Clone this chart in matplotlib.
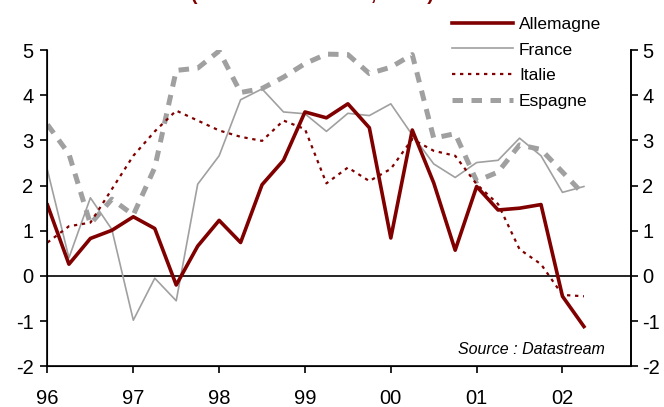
import numpy as np
import matplotlib
matplotlib.use('Agg')
import matplotlib.pyplot as plt

plt.rcParams['font.family'] = ['Liberation Sans', 'DejaVu Sans']
plt.rcParams['axes.unicode_minus'] = False

# quarterly, 1996Q1 .. 2002Q2
quarters = 1996 + 0.25 * np.arange(26)

allemagne = [1.57, 0.26, 0.83, 1.01, 1.31, 1.05, -0.2, 0.66, 1.23, 0.74,
             2.02, 2.56, 3.63, 3.5, 3.81, 3.28, 0.84, 3.23, 2.06, 0.57,
             1.98, 1.46, 1.5, 1.58, -0.45, -1.12]
france = [2.34, 0.4, 1.73, 1.03, -0.98, -0.05, -0.55, 2.03, 2.66, 3.9,
          4.14, 3.63, 3.59, 3.2, 3.6, 3.55, 3.81, 3.12, 2.48, 2.18,
          2.51, 2.56, 3.05, 2.66, 1.85, 1.98]
italie = [0.74, 1.1, 1.18, 1.92, 2.66, 3.2, 3.66, 3.44, 3.22, 3.08,
          2.99, 3.44, 3.25, 2.05, 2.4, 2.1, 2.37, 3.03, 2.77, 2.66,
          2.03, 1.59, 0.59, 0.26, -0.42, -0.45]
espagne = [3.35, 2.7, 1.15, 1.7, 1.35, 2.4, 4.55, 4.6, 4.98, 4.06,
           4.15, 4.4, 4.7, 4.91, 4.9, 4.48, 4.62, 4.9, 3.05, 3.15,
           2.1, 2.3, 2.9, 2.8, 2.3, 1.8]

years = [1996, 1997, 1998, 1999, 2000, 2001, 2002]
year_labels = ['96', '97', '98', '99', '00', '01', '02']
yticks = [-2, -1, 0, 1, 2, 3, 4, 5]

red = '#800000'
grey = '#a0a0a0'

fig = plt.figure(figsize=(6.64, 4.07), dpi=100)
ax = fig.add_axes([0.0715, 0.1, 0.879, 0.777])

ax.axhline(0, color='black', lw=1.2, zorder=1)
ax.plot(quarters, allemagne, color=red, lw=2.6, label='Allemagne', zorder=5)
ax.plot(quarters, france, color=grey, lw=1.2, label='France', zorder=3)
ax.plot(quarters, italie, color=red, lw=1.6, linestyle=(0, (1.5, 2.1)),
        label='Italie', zorder=4)
ax.plot(quarters, espagne, color=grey, lw=3.6, linestyle=(0, (2.1, 1.7)),
        label='Espagne', zorder=2)

ax.set_xlim(1996, 2002.8)
ax.set_ylim(-2, 5)
ax.set_xticks(years)
ax.set_xticklabels(year_labels)
ax.set_yticks(yticks)
ax.spines['top'].set_visible(False)
for s in ['left', 'bottom', 'right']:
    ax.spines[s].set_linewidth(1.2)
ax.tick_params(axis='y', labelsize=14.5, length=5, width=1.2, pad=5)
ax.tick_params(axis='x', labelsize=14.5, length=5, width=1.2, pad=11)

ax2 = ax.twinx()
ax2.set_ylim(-2, 5)
ax2.set_yticks(yticks)
ax2.spines['top'].set_visible(False)
ax2.spines['right'].set_linewidth(1.2)
ax2.tick_params(axis='y', labelsize=14.5, length=5, width=1.2, pad=3)

ax.text(0.955, 0.03, 'Source : Datastream', transform=ax.transAxes,
        ha='right', va='bottom', fontsize=11.5, style='italic')

# chart title sits above the top edge, only its lower part shows
fig.text(0.47, 1.012, '(Glissement annuel, en %)', color=red,
         fontsize=14, fontweight='bold', ha='center', va='center')

fig.legend(loc='upper left', bbox_to_anchor=(0.668, 0.98), frameon=False,
           fontsize=12.5, handlelength=3.5, handletextpad=0.35,
           labelspacing=0.6, borderpad=0)

fig.savefig('out.png', dpi=100)
